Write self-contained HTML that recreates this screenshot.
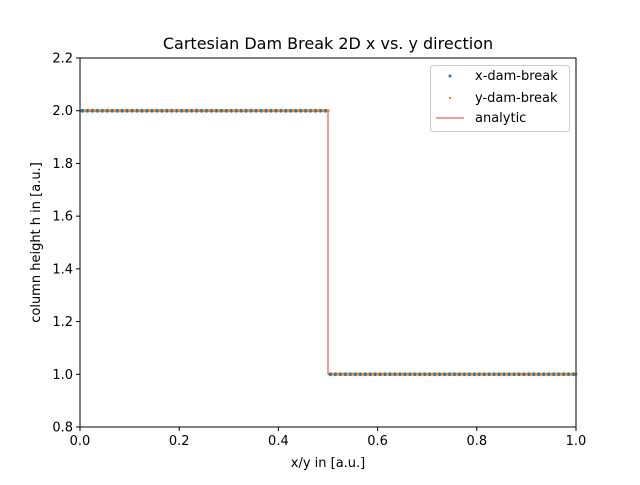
<!DOCTYPE html>
<html><head><meta charset="utf-8"><style>
body{margin:0;background:#fff;}
svg text{font-family:"DejaVu Sans","Liberation Sans",sans-serif;fill:#000;}
</style></head><body>
<svg id="chart" width="640" height="480" xmlns="http://www.w3.org/2000/svg">
<rect width="640" height="480" fill="#fff"/>
<text x="328" y="49" font-size="16" text-anchor="middle">Cartesian Dam Break 2D x vs. y direction</text>
<g id="marks"></g>
<g id="axes"></g>
<text x="328" y="467" font-size="13" text-anchor="middle">x/y in [a.u.]</text>
<text transform="translate(40,242.5) rotate(-90)" font-size="13" text-anchor="middle">column height h in [a.u.]</text>
<g>
<rect x="430.5" y="65.5" width="139" height="66" rx="3" fill="#fff" stroke="#ccc" fill-opacity="0.8"/>
<circle cx="450" cy="76" r="1.5" fill="#1f77b4"/>
<text x="475" y="80" font-size="13">x-dam-break</text>
<circle cx="450" cy="98" r="1.2" fill="#ff7f0e"/>
<text x="475" y="102" font-size="13">y-dam-break</text>
<line x1="436" y1="118" x2="464" y2="118" stroke="#ff0000" stroke-opacity="0.8" stroke-width="1"/>
<text x="475" y="122" font-size="13">analytic</text>
</g>
</svg>
<script>
const xTicks=[0,0.2,0.4,0.6,0.8,1.0];
const yTicks=[0.8,1.0,1.2,1.4,1.6,1.8,2.0,2.2];
const xDamH=[2,2,2,2,2,2,2,2,2,2,2,2,2,2,2,2,2,2,2,2,2,2,2,2,2,2,2,2,2,2,2,2,2,2,2,2,2,2,2,2,2,2,2,2,2,2,2,2,2,2,1,1,1,1,1,1,1,1,1,1,1,1,1,1,1,1,1,1,1,1,1,1,1,1,1,1,1,1,1,1,1,1,1,1,1,1,1,1,1,1,1,1,1,1,1,1,1,1,1,1];
const yDamH=[2,2,2,2,2,2,2,2,2,2,2,2,2,2,2,2,2,2,2,2,2,2,2,2,2,2,2,2,2,2,2,2,2,2,2,2,2,2,2,2,2,2,2,2,2,2,2,2,2,2,1,1,1,1,1,1,1,1,1,1,1,1,1,1,1,1,1,1,1,1,1,1,1,1,1,1,1,1,1,1,1,1,1,1,1,1,1,1,1,1,1,1,1,1,1,1,1,1,1,1];
const analyticX=[0,0.5,0.5,1.0];
const analyticH=[2,2,1,1];
const L=80,R=576,T=58,B=427;
const sx=v=>L+(v-0)/(1-0)*(R-L);
const sy=v=>B-(v-0.8)/(2.2-0.8)*(B-T);
const NS="http://www.w3.org/2000/svg";
const marks=document.getElementById('marks'),axes=document.getElementById('axes');
function mk(tag,at,parent){const e=document.createElementNS(NS,tag);for(const k in at)e.setAttribute(k,at[k]);parent.appendChild(e);return e;}
const N=xDamH.length;
const pl=mk('polyline',{points:analyticX.map((x,i)=>sx(x)+','+sy(analyticH[i])).join(' '),fill:'none',stroke:'#ff0000','stroke-opacity':0.8,'stroke-width':1},marks);


xDamH.forEach((h,i)=>{const c=mk('circle',{cx:sx((i+0.5)/N),cy:sy(h),r:1.9,fill:'#1f77b4'},marks);

});
yDamH.forEach((h,i)=>{const c=mk('circle',{cx:sx((i+0.5)/N)+2.5,cy:sy(h),r:1.5,fill:'#ff7f0e'},marks);

});
const fr=mk('rect',{x:L,y:T,width:R-L,height:B-T,fill:'none',stroke:'#000','stroke-width':1},axes);


xTicks.forEach(v=>{const x=sx(v);mk('line',{x1:x,y1:B,x2:x,y2:B+4,stroke:'#000'},axes);
const t=mk('text',{x:x,y:B+18,'font-size':13,'text-anchor':'middle'},axes);t.textContent=v.toFixed(1);

});
yTicks.forEach(v=>{const y=sy(v);mk('line',{x1:L-4,y1:y,x2:L,y2:y,stroke:'#000'},axes);
const t=mk('text',{x:L-7,y:y+4.5,'font-size':13,'text-anchor':'end'},axes);t.textContent=v.toFixed(1);

});
</script>
</body></html>
